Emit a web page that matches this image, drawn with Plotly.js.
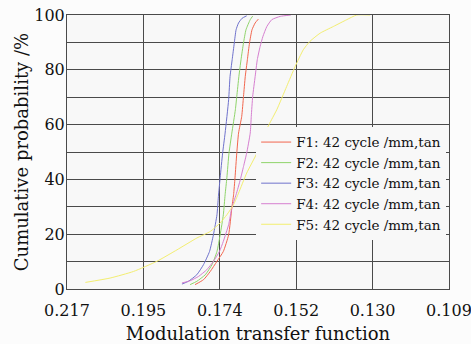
<!DOCTYPE html>
<html>
<head>
<meta charset="utf-8">
<script src="https://cdn.plot.ly/plotly-3.0.1.min.js"></script>
<style>html,body{margin:0;padding:0;background:#fcfcfc;}#chart{width:471px;height:344px;}</style>
</head>
<body>
<div id="chart"></div>
<script>
// Series names
const seriesNames = ["F1: 42 cycle /mm,tan", "F2: 42 cycle /mm,tan", "F3: 42 cycle /mm,tan", "F4: 42 cycle /mm,tan", "F5: 42 cycle /mm,tan"];
// x tick values and labels (axis is reversed)
const xTickVals = [0.217, 0.1954, 0.1738, 0.1522, 0.1306, 0.109];
const xTickText = ["0.217", "0.195", "0.174", "0.152", "0.130", "0.109"];
const yTickVals = [0, 20, 40, 60, 80, 100];

// F1
const f1MTF = [0.1808, 0.1784, 0.1765, 0.1746, 0.1728, 0.1713, 0.1704, 0.1699, 0.1695, 0.1690, 0.1685, 0.1676, 0.1671, 0.1666, 0.1660, 0.1654, 0.1647, 0.1638, 0.1629];
const f1Prob = [1.6, 3.4, 6.4, 10.1, 13.7, 19.8, 29.6, 34.4, 40.6, 49.6, 56.9, 63.0, 70.3, 77.6, 83.7, 89.8, 94.6, 97.1, 98.5];
// F2
const f2MTF = [0.1822, 0.1803, 0.1779, 0.1760, 0.1746, 0.1737, 0.1728, 0.1723, 0.1718, 0.1712, 0.1704, 0.1694, 0.1690, 0.1684, 0.1678, 0.1671, 0.1664, 0.1652, 0.1645];
const f2Prob = [1.6, 2.8, 5.2, 8.9, 13.7, 19.8, 27.1, 34.4, 40.6, 49.6, 56.9, 65.4, 70.3, 77.6, 83.7, 89.8, 94.6, 98.3, 99.6];
// F3
const f3MTF = [0.1845, 0.1827, 0.1803, 0.1784, 0.1767, 0.1756, 0.1746, 0.1742, 0.1737, 0.1730, 0.1723, 0.1713, 0.1709, 0.1703, 0.1697, 0.1692, 0.1685, 0.1675, 0.1662];
const f3Prob = [1.8, 2.8, 5.2, 8.9, 13.7, 19.8, 27.1, 33.7, 40.6, 49.6, 56.9, 69.1, 77.6, 83.7, 89.8, 94.6, 97.1, 98.8, 99.7];
// F4
const f4MTF = [0.1845, 0.1822, 0.1798, 0.1775, 0.1756, 0.1739, 0.1728, 0.1713, 0.1704, 0.1692, 0.1680, 0.1671, 0.1662, 0.1652, 0.1649, 0.1645, 0.1638, 0.1632, 0.1624, 0.1616, 0.1605, 0.1591, 0.1567, 0.1537];
const f4Prob = [2.2, 3.0, 4.6, 7.0, 10.1, 13.7, 17.4, 23.5, 29.6, 34.4, 39.9, 44.7, 49.6, 56.9, 63.0, 70.3, 77.6, 83.7, 88.5, 92.2, 95.8, 98.3, 99.5, 100];
// F5
const f5MTF = [0.2118, 0.2048, 0.1982, 0.1916, 0.1859, 0.1803, 0.1765, 0.1737, 0.1718, 0.1699, 0.1685, 0.1662, 0.1633, 0.1615, 0.1599, 0.1577, 0.1549, 0.1525, 0.1502, 0.1483, 0.1454, 0.1417, 0.1379, 0.1351, 0.1313];
const f5Prob = [2.4, 4.0, 6.4, 10.1, 14.3, 18.6, 21.0, 24.1, 27.1, 30.8, 35.0, 42.3, 49.6, 55.7, 60.0, 65.4, 73.9, 81.2, 87.3, 90.4, 93.4, 95.8, 98.3, 100, 100];

const colors = ["#f2664e", "#8fd46a", "#6f72cc", "#d67fd0", "#f3ee70"];
const xs = [f1MTF, f2MTF, f3MTF, f4MTF, f5MTF];
const ys = [f1Prob, f2Prob, f3Prob, f4Prob, f5Prob];

const serif = "DejaVu Serif, serif";
const traces = seriesNames.map((n, i) => ({
  type: "scatter", mode: "lines", name: n,
  x: xs[i], y: ys[i],
  line: {color: colors[i], width: 1, shape: "spline", smoothing: 0.5}
}));

const gridCol = "#4a4a4a";
const layout = {
  width: 471, height: 344,
  margin: {l: 66.7, r: 22, t: 15.3, b: 54.7},
  paper_bgcolor: "#fcfcfc",
  plot_bgcolor: "#f8f8f8",
  font: {family: serif, color: "#111"},
  showlegend: true,
  legend: {
    x: (256 - 66.7) / 382.3, y: 0.592, xanchor: "left", yanchor: "top",
    bgcolor: "#f8f8f8", borderwidth: 0,
    font: {family: serif, size: 13.5, color: "#111"}
  },
  xaxis: {
    range: [0.21700001, 0.10899999],
    tickmode: "array", tickvals: xTickVals, ticktext: xTickText,
    showgrid: true, gridcolor: gridCol, gridwidth: 1,
    zeroline: false, showline: true, linecolor: gridCol, linewidth: 1, mirror: true,
    ticks: "", ticklabelstandoff: 7, ticklabeloverflow: "allow",
    tickfont: {family: serif, size: 16, color: "#111"},
    title: {text: "Modulation transfer function", font: {family: serif, size: 18, color: "#111"}, standoff: 8}
  },
  yaxis: {
    range: [0, 100],
    tickmode: "array", tickvals: yTickVals,
    showgrid: true, gridcolor: gridCol, gridwidth: 1,
    minor: {dtick: 10, showgrid: true, gridcolor: gridCol, gridwidth: 1},
    zeroline: false, showline: true, linecolor: gridCol, linewidth: 1, mirror: true,
    ticks: "", ticklabelstandoff: -2, tickfont: {family: serif, size: 16, color: "#111"},
    title: {text: "Cumulative probability /%", font: {family: serif, size: 18, color: "#111"}, standoff: 0}
  }
};

Plotly.newPlot("chart", traces, layout, {displayModeBar: false, staticPlot: true});
</script>
</body>
</html>
